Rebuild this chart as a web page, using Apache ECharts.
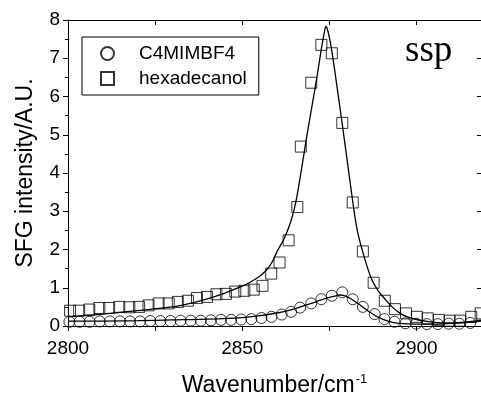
<!DOCTYPE html>
<html>
<head>
<meta charset="utf-8">
<script src="https://cdn.jsdelivr.net/npm/echarts@6/dist/echarts.min.js"></script>
<style>
html,body{margin:0;padding:0;background:#fff;}
#chart{width:481px;height:396px;}
</style>
</head>
<body>
<div id="chart"></div>
<script>
// ---- data ----
var seriesNames = ['C4MIMBF4', 'hexadecanol'];

var hexX = [2800.6,2803.2,2806.1,2809.0,2811.8,2814.7,2817.6,2820.4,2823.1,2826.0,2828.9,2831.5,2834.4,2837.0,2839.9,2842.6,2845.3,2848.0,2850.6,2853.3,2855.8,2858.3,2860.7,2863.3,2865.8,2866.8,2869.8,2872.7,2875.7,2878.7,2881.7,2884.6,2887.7,2890.9,2893.8,2897.0,2900.1,2903.2,2906.4,2909.5,2912.5,2915.7,2918.4];
var hexY = [0.40,0.40,0.43,0.47,0.47,0.50,0.49,0.50,0.54,0.59,0.59,0.63,0.66,0.73,0.76,0.83,0.84,0.90,0.92,0.95,1.05,1.37,1.66,2.24,3.11,4.69,6.36,7.35,7.13,5.31,3.23,1.95,1.13,0.66,0.44,0.33,0.24,0.20,0.16,0.14,0.14,0.24,0.33];

var c4X = [2800.4,2803.3,2806.2,2809.1,2812.0,2814.9,2817.8,2820.7,2823.6,2826.5,2829.4,2832.3,2835.2,2838.1,2841.0,2843.9,2846.8,2849.7,2852.6,2855.5,2858.4,2861.3,2864.0,2866.6,2869.8,2872.7,2875.7,2878.7,2881.7,2884.6,2888.0,2890.8,2893.7,2896.8,2899.9,2903.0,2906.1,2909.2,2912.3,2915.4];
var c4Y = [0.11,0.11,0.11,0.12,0.12,0.12,0.12,0.12,0.13,0.13,0.13,0.14,0.14,0.14,0.15,0.16,0.16,0.17,0.18,0.21,0.24,0.30,0.37,0.48,0.59,0.70,0.79,0.88,0.70,0.50,0.31,0.18,0.11,0.07,0.06,0.05,0.05,0.06,0.06,0.08];

var fitHexX = [2800,2810,2820,2830,2835,2840,2845,2850,2852,2855,2857,2858.5,2860,2862,2864,2865.5,2867,2868.5,2870,2871.5,2872.7,2873.5,2874,2874.6,2875.5,2876.5,2877.5,2878.5,2880,2881.7,2883,2885,2887,2889,2891,2893,2895,2897,2900,2903,2906,2910,2914,2918.5];
var fitHexY = [0.24,0.31,0.40,0.50,0.59,0.71,0.86,1.04,1.13,1.30,1.47,1.66,1.95,2.28,2.75,3.30,4.10,4.95,5.75,6.55,7.25,7.65,7.83,7.70,7.30,6.70,6.05,5.40,4.40,3.25,2.50,1.80,1.25,0.92,0.70,0.50,0.35,0.25,0.17,0.12,0.09,0.08,0.10,0.15];

var fitC4X = [2800,2810,2820,2830,2840,2850,2855,2860,2865,2870,2874,2876.5,2878,2879.5,2881,2883,2886,2889,2892,2895,2900,2905,2910,2914,2918.5];
var fitC4Y = [0.13,0.13,0.14,0.16,0.18,0.22,0.27,0.34,0.45,0.60,0.72,0.78,0.81,0.79,0.72,0.60,0.40,0.23,0.12,0.07,0.05,0.05,0.07,0.09,0.13];

var xTicks = [2800, 2850, 2900];
var yTicks = [0,1,2,3,4,5,6,7,8];
var xLabel = 'Wavenumber/cm';
var xLabelSup = '-1';
var yLabel = 'SFG intensity/A.U.';
var panelTag = 'ssp';

function pairs(xs, ys){ return xs.map(function(x,i){ return [x, ys[i]]; }); }

var chart = echarts.init(document.getElementById('chart'));
var font = 'Liberation Sans, Arial, sans-serif';
var axisLine = {show:true, onZero:false, lineStyle:{color:'#000', width:1}};

chart.setOption({
  animation:false,
  backgroundColor:'#fff',
  grid:{left:68, top:20, right:0, bottom:70, containLabel:false, outerBoundsMode:'none'},
  legend:{
    orient:'vertical', left:82, top:37,
    padding:[7,12,7,18], itemGap:6,
    borderColor:'#000', borderWidth:1,
    itemWidth:13, itemHeight:13,
    textStyle:{fontFamily:font, fontSize:19, color:'#000', padding:[0,6,0,20]},
    data:seriesNames
  },
  graphic:[{
    type:'text', left:405, top:33,
    style:{text:panelTag, font:'37px "Liberation Serif", "Times New Roman", serif', fill:'#000'}
  }],
  xAxis:[{
    type:'value', min:2800, max:2918.5, interval:50,
    position:'bottom',
    axisLine:axisLine,
    axisTick:{show:true, inside:false, length:5, lineStyle:{color:'#000'}},
    minorTick:{show:true, splitNumber:2, length:5, lineStyle:{color:'#000'}},
    splitLine:{show:false},
    axisLabel:{fontFamily:font, fontSize:19, color:'#000', margin:13,
      showMaxLabel:false,
      formatter:function(v){ return xTicks.indexOf(v) >= 0 ? String(v) : ''; }},
    name:'{a|' + xLabel + '}{s|' + xLabelSup + '}',
    nameLocation:'middle', nameGap:47,
    nameTextStyle:{
      rich:{
        a:{fontFamily:font, fontSize:23, color:'#000'},
        s:{fontFamily:font, fontSize:13, color:'#000', verticalAlign:'top', padding:[0,0,12,1]}
      }
    }
  },{
    type:'value', min:2800, max:2918.5, interval:50,
    position:'top',
    axisLine:axisLine,
    axisTick:{show:true, inside:true, length:5, lineStyle:{color:'#000'}},
    minorTick:{show:true, splitNumber:2, length:5, lineStyle:{color:'#000'}},
    splitLine:{show:false},
    axisLabel:{show:false}
  }],
  yAxis:[{
    type:'value', min:0, max:8, interval:1,
    position:'left',
    axisLine:axisLine,
    axisTick:{show:true, inside:false, length:5, lineStyle:{color:'#000'}},
    minorTick:{show:true, splitNumber:2, length:3, lineStyle:{color:'#000'}},
    splitLine:{show:false},
    axisLabel:{fontFamily:font, fontSize:19, color:'#000', margin:8,
      formatter:function(v){ return yTicks.indexOf(v) >= 0 ? String(v) : ''; }},
    name:yLabel, nameLocation:'middle', nameGap:31,
    nameTextStyle:{fontFamily:font, fontSize:23, color:'#000'}
  },{
    type:'value', min:0, max:8, interval:1,
    position:'right',
    axisLine:{show:false},
    axisTick:{show:true, inside:true, length:4, lineStyle:{color:'#000'}},
    splitLine:{show:false},
    axisLabel:{show:false}
  }],
  series:[
    {
      name:seriesNames[0], type:'scatter', xAxisIndex:0, yAxisIndex:0,
      symbol:'circle', symbolSize:11,
      itemStyle:{color:'rgba(0,0,0,0)', borderColor:'#000', borderWidth:1},
      data:pairs(c4X, c4Y), z:3
    },
    {
      name:seriesNames[1], type:'scatter', xAxisIndex:0, yAxisIndex:0,
      symbol:'rect', symbolSize:11,
      itemStyle:{color:'rgba(0,0,0,0)', borderColor:'#000', borderWidth:1},
      data:pairs(hexX, hexY), z:3
    },
    {
      name:'fitC4', type:'line', xAxisIndex:0, yAxisIndex:0,
      showSymbol:false, smooth:0.3,
      lineStyle:{color:'#000', width:1.3},
      data:pairs(fitC4X, fitC4Y), z:2
    },
    {
      name:'fitHex', type:'line', xAxisIndex:0, yAxisIndex:0,
      showSymbol:false, smooth:0.3,
      lineStyle:{color:'#000', width:1.3},
      data:pairs(fitHexX, fitHexY), z:2
    }
  ]
});
</script>
</body>
</html>
